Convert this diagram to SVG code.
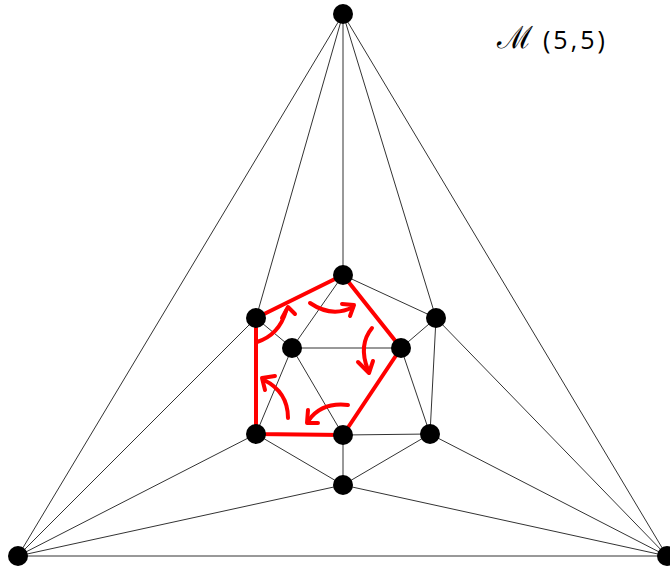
<svg xmlns="http://www.w3.org/2000/svg" width="670" height="572" viewBox="0 0 670 572">
<style>
.e{stroke:#333;stroke-width:1;fill:none}
.r{stroke:#f00;stroke-width:4;fill:none;stroke-linejoin:round}
.a{stroke:#f00;stroke-width:4;fill:none;stroke-linecap:round;stroke-linejoin:round}
.n{fill:#000}
.t{font-family:"Open Sans","Noto Sans",sans-serif;fill:#000}
</style>
<rect width="670" height="572" fill="#fff"/>
<g id="connectors">
<line class="e" x1="343" y1="14" x2="18" y2="556"/>
<line class="e" x1="343" y1="14" x2="256" y2="318"/>
<line class="e" x1="343" y1="14" x2="343" y2="275"/>
<line class="e" x1="343" y1="14" x2="436" y2="318"/>
<line class="e" x1="343" y1="14" x2="667" y2="556"/>
<line class="e" x1="18" y1="556" x2="667" y2="556"/>
<line class="e" x1="18" y1="556" x2="256" y2="318"/>
<line class="e" x1="18" y1="556" x2="256" y2="434"/>
<line class="e" x1="18" y1="556" x2="343" y2="485"/>
<line class="e" x1="667" y1="556" x2="436" y2="318"/>
<line class="e" x1="667" y1="556" x2="430" y2="434"/>
<line class="e" x1="667" y1="556" x2="343" y2="485"/>
<line class="e" x1="343" y1="275" x2="292" y2="348"/>
<line class="e" x1="343" y1="275" x2="436" y2="318"/>
<line class="e" x1="256" y1="318" x2="292" y2="348"/>
<line class="e" x1="292" y1="348" x2="401" y2="348"/>
<line class="e" x1="292" y1="348" x2="256" y2="434"/>
<line class="e" x1="292" y1="348" x2="343" y2="435"/>
<line class="e" x1="401" y1="348" x2="436" y2="318"/>
<line class="e" x1="401" y1="348" x2="430" y2="434"/>
<line class="e" x1="436" y1="318" x2="430" y2="434"/>
<line class="e" x1="343" y1="435" x2="430" y2="434"/>
<line class="e" x1="343" y1="435" x2="343" y2="485"/>
<line class="e" x1="256" y1="434" x2="343" y2="485"/>
<line class="e" x1="430" y1="434" x2="343" y2="485"/>
<polygon class="r" points="343,275 256,318 256,434 343,435 401,348"/>
</g>
<g id="arrows">
<path class="a" d="M257,342 Q279,335 286,311"/>
<polyline class="a" points="282,318 288,307 295,314"/>
<path class="a" d="M310,303 Q332,318 353,307"/>
<polyline class="a" points="342,304 354,305 350,316"/>
<path class="a" d="M372,328 Q358,345 368,370"/>
<polyline class="a" points="358,362 369,373 373,361"/>
<path class="a" d="M348,405 Q322,402 309,420"/>
<polyline class="a" points="308,410 307,423 318,423"/>
<path class="a" d="M288,418 Q288,392 264,380"/>
<polyline class="a" points="265,390 262,378 275,376"/>
</g>
<g id="nodeT"><circle class="n" cx="343" cy="14" r="10"/></g>
<g id="nodeBL"><circle class="n" cx="18" cy="556" r="10"/></g>
<g id="nodeBR"><circle class="n" cx="667" cy="556" r="10"/></g>
<g id="nodeA"><circle class="n" cx="343" cy="275" r="10"/></g>
<g id="nodeB"><circle class="n" cx="256" cy="318" r="10"/></g>
<g id="nodeC"><circle class="n" cx="292" cy="348" r="10"/></g>
<g id="nodeD"><circle class="n" cx="401" cy="348" r="10"/></g>
<g id="nodeE"><circle class="n" cx="436" cy="318" r="10"/></g>
<g id="nodeF"><circle class="n" cx="256" cy="434" r="10"/></g>
<g id="nodeG"><circle class="n" cx="343" cy="435" r="10"/></g>
<g id="nodeH"><circle class="n" cx="430" cy="434" r="10"/></g>
<g id="nodeI"><circle class="n" cx="343" cy="485" r="10"/></g>
<g id="label">
<text class="t" x="497" y="48" font-size="31" font-family="DejaVu Sans,sans-serif">ℳ</text>
<text class="t" x="543" y="49" font-size="25" letter-spacing="3">(5,5)</text>
</g>
</svg>
